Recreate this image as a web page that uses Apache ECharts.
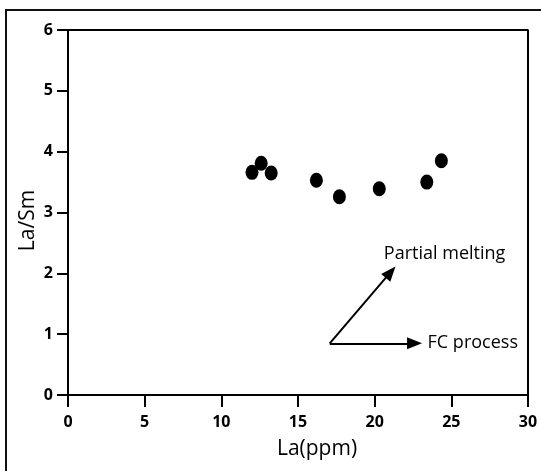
<!DOCTYPE html>
<html>
<head>
<meta charset="utf-8">
<script src="https://cdn.jsdelivr.net/npm/echarts@6/dist/echarts.min.js"></script>
<style>
html,body{margin:0;padding:0;background:#fff;}
#chart{width:541px;height:471px;}
</style>
</head>
<body>
<div id="chart"></div>
<script>
// La (ppm) vs La/Sm
var laPpm = [12.0, 12.6, 13.25, 16.2, 17.7, 20.3, 23.4, 24.35];
var laSm  = [3.66, 3.81, 3.65, 3.53, 3.26, 3.39, 3.50, 3.85];

// trend arrows: start -> end (end = centre of the arrow head)
var arrowStart = [17.07, 0.85];
var arrowMelt  = [21.04, 2.02];
var arrowFc    = [22.6, 0.85];

// annotation labels
var noteNames = ['Partial melting', 'FC process'];
var noteX = [20.6, 23.45];
var noteY = [2.32, 0.85];

var xTicks = [0, 5, 10, 15, 20, 25, 30];
var yTicks = [0, 1, 2, 3, 4, 5, 6];

var font = "'Open Sans', 'Noto Sans', sans-serif";

var pts = [];
for (var i = 0; i < laPpm.length; i++) {
	pts.push([laPpm[i], laSm[i]]);
}
var notes = [];
for (var j = 0; j < noteNames.length; j++) {
	notes.push({name: noteNames[j], value: [noteX[j], noteY[j]]});
}

var myChart = echarts.init(document.getElementById('chart'));
var option = {
	animation: false,
	backgroundColor: '#fff',
	grid: {left: 68, right: 13, top: 30, bottom: 76, containLabel: false},
	graphic: [{
		type: 'rect',
		z: -1,
		shape: {x: 6, y: 10, width: 700, height: 700},
		style: {fill: 'none', stroke: '#111', lineWidth: 2}
	}],
	xAxis: {
		type: 'value',
		min: xTicks[0], max: xTicks[xTicks.length - 1], interval: 5,
		name: 'La(ppm)',
		nameLocation: 'middle',
		nameGap: 44,
		nameMoveOverlap: false,
		nameTextStyle: {fontFamily: font, fontSize: 21, color: '#000', padding: [0, 0, 0, 38]},
		axisLine: {show: true, onZero: false, lineStyle: {color: '#000', width: 2}},
		axisTick: {show: true, inside: false, length: 12, lineStyle: {color: '#000', width: 2}},
		axisLabel: {fontFamily: font, fontSize: 16, fontWeight: 'bold', color: '#000', margin: 19},
		splitLine: {show: false}
	},
	yAxis: {
		type: 'value',
		min: yTicks[0], max: yTicks[yTicks.length - 1], interval: 1,
		name: 'La/Sm',
		nameLocation: 'middle',
		nameGap: 29,
		nameMoveOverlap: false,
		nameTextStyle: {fontFamily: font, fontSize: 21, color: '#000', padding: [0, 0, 0, -16]},
		axisLine: {show: true, onZero: false, lineStyle: {color: '#000', width: 2}},
		axisTick: {show: true, inside: false, length: 11, lineStyle: {color: '#000', width: 2}},
		axisLabel: {fontFamily: font, fontSize: 16, fontWeight: 'bold', color: '#000', margin: 15},
		splitLine: {show: false}
	},
	series: [
		{
			type: 'scatter',
			data: pts,
			symbol: 'circle',
			symbolSize: [13, 15],
			itemStyle: {color: '#000', opacity: 1},
			markLine: {
				silent: true,
				symbol: ['none', 'triangle'],
				symbolSize: [12, 15],
				itemStyle: {color: '#000'},
				lineStyle: {color: '#000', width: 2, type: 'solid', opacity: 1},
				label: {show: false},
				data: [
					[{coord: arrowStart}, {coord: arrowMelt}],
					[{coord: arrowStart}, {coord: arrowFc}]
				]
			}
		},
		{
			type: 'scatter',
			data: notes,
			symbolSize: 0,
			itemStyle: {opacity: 1},
			label: {
				show: true,
				position: 'right',
				distance: 0,
				formatter: '{b}',
				fontFamily: font,
				fontSize: 18,
				color: '#000'
			}
		},
		{
			// top and right frame of the plot box
			type: 'line',
			data: [[xTicks[0], yTicks[yTicks.length - 1]], [xTicks[xTicks.length - 1], yTicks[yTicks.length - 1]], [xTicks[xTicks.length - 1], yTicks[0]]],
			symbol: 'none',
			lineStyle: {color: '#000', width: 2},
			silent: true
		}
	]
};
myChart.setOption(option);
</script>
</body>
</html>
